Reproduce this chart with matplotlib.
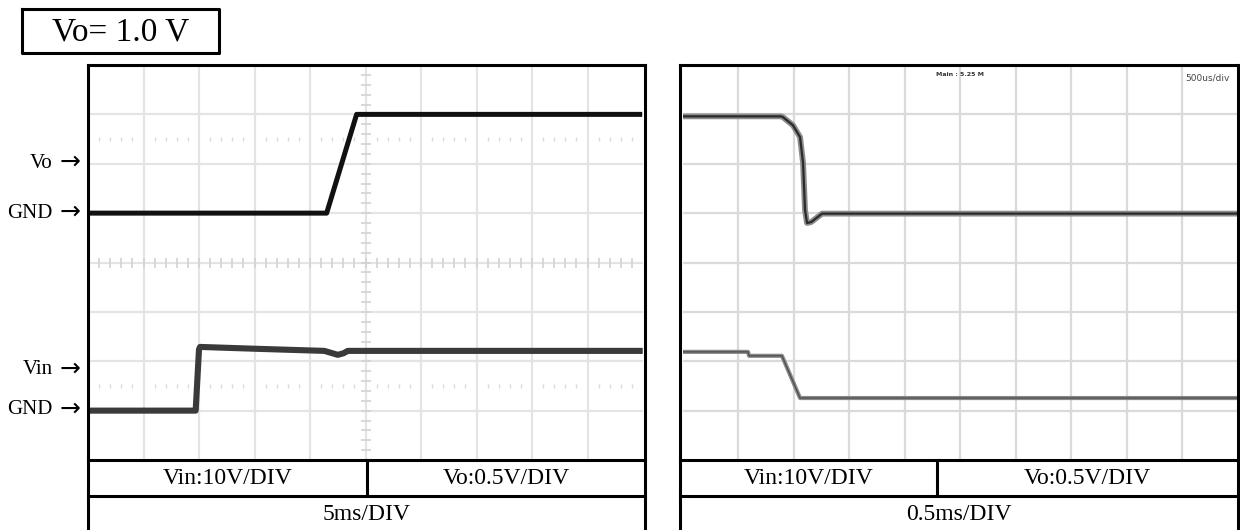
import numpy as np
import matplotlib
matplotlib.use("Agg")
import matplotlib.pyplot as plt

SERIF = ["Liberation Serif", "DejaVu Serif"]

# ---- scope settings ----
vo_per_div = 0.5      # V/div, output channel
vin_per_div = 10.0    # V/div, input channel
n_xdiv, n_ydiv = 10, 8
vo_gnd_div = 5        # Vo ground marker, divisions above bottom
vin_gnd_div = 1       # Vin ground marker, divisions above bottom

# ---- start-up capture, 5 ms/div ----
left_ms_per_div = 5.0
left_vo_t = [0.3, 21.5, 24.2, 49.7]
left_vo_v = [0.0, 0.0, 1.0, 1.0]
left_vin_t = [0.3, 9.7, 10.0, 10.1, 15.5, 21.3, 22.5, 23.0, 23.4, 49.7]
left_vin_v = [0.0, 0.0, 12.4, 12.9, 12.5, 12.1, 11.3, 11.6, 12.1, 12.1]

# ---- shut-down capture, 0.5 ms/div ----
right_ms_per_div = 0.5
right_vo_t = [0.01, 0.887, 0.905, 0.995, 1.059, 1.086, 1.104, 1.122, 1.16, 1.194, 1.257, 4.99]
right_vo_v = [0.98, 0.98, 0.972, 0.89, 0.77, 0.51, 0.03, -0.10, -0.09, -0.06, -0.005, -0.005]
right_vin_t = [0.01, 0.59, 0.60, 0.896, 1.059, 4.99]
right_vin_v = [11.9, 11.9, 11.1, 11.1, 2.55, 2.55]

title = "Vo= 1.0 V"
scale_labels = ["Vin:10V/DIV", "Vo:0.5V/DIV"]
left_time_label = "5ms/DIV"
right_time_label = "0.5ms/DIV"
marker_labels = ["Vo", "GND", "Vin", "GND"]

W, H = 1240, 530
fig = plt.figure(figsize=(W / 100, H / 100), dpi=100)


def px_axes(x0, x1, y0, y1):
    return fig.add_axes([x0 / W, 1 - y1 / H, (x1 - x0) / W, (y1 - y0) / H])


def scope(x0, x1, ms_per_div, grid_color, graticule):
    ax = px_axes(x0, x1, 65, 460)
    ax.set_xlim(0, n_xdiv * ms_per_div)
    vo_lo = -vo_gnd_div * vo_per_div
    ax.set_ylim(vo_lo, vo_lo + n_ydiv * vo_per_div)
    for s in ax.spines.values():
        s.set_visible(False)
    ax.set_xticks([]); ax.set_yticks([])
    for k in range(1, n_xdiv):
        ax.axvline(k * ms_per_div, color=grid_color, lw=1.6, zorder=0)
    for k in range(1, n_ydiv):
        ax.axhline(vo_lo + k * vo_per_div, color=grid_color, lw=1.6, zorder=0)
    if graticule:
        xc = n_xdiv / 2 * ms_per_div
        yc = vo_lo + n_ydiv / 2 * vo_per_div
        fx = np.arange(0.2, n_xdiv, 0.2) * ms_per_div
        fy = vo_lo + np.arange(0.2, n_ydiv, 0.2) * vo_per_div
        ax.plot(fx, np.full_like(fx, yc), ls="none", marker="|", ms=7,
                mew=1.2, color="#d2d2d2", zorder=0)
        ax.plot(np.full_like(fy, xc), fy, ls="none", marker="_", ms=7,
                mew=1.2, color="#d2d2d2", zorder=0)
        fx2 = fx[np.abs(fx / ms_per_div - np.round(fx / ms_per_div)) > 1e-6]
        for yd in (yc + 2.5 * vo_per_div, yc - 2.5 * vo_per_div):
            ax.plot(fx2, np.full_like(fx2, yd), ls="none", marker="|", ms=3,
                    mew=1.0, color="#dadada", zorder=0)
    axv = ax.twinx()
    vin_lo = -vin_gnd_div * vin_per_div
    axv.set_ylim(vin_lo, vin_lo + n_ydiv * vin_per_div)
    axv.set_yticks([])
    axv.patch.set_visible(False)
    for s in axv.spines.values():
        s.set_visible(False)
    return ax, axv


# start-up panel
axL, axLv = scope(88, 643, left_ms_per_div, "#e4e4e4", True)
axLv.plot(left_vin_t, left_vin_v, color="#3a3a3a", lw=4.4)
axL.plot(left_vo_t, left_vo_v, color="#111111", lw=3.6)

# shut-down panel
axR, axRv = scope(682.5, 1237.5, right_ms_per_div, "#dadada", False)
axRv.plot(right_vin_t, right_vin_v, color="#8a8a8a", lw=3.0)
axRv.plot(right_vin_t, right_vin_v, color="#505050", lw=1.0)
axR.plot(right_vo_t, right_vo_v, color="#8c8c8c", lw=4.2)
axR.plot(right_vo_t, right_vo_v, color="#2a2a2a", lw=1.6)
axR.text(0.50, 0.982, "Main : 5.25 M", transform=axR.transAxes, ha="center",
         va="top", fontsize=4.5, fontweight="bold", color="#333333")
axR.text(0.985, 0.978, "500us/div", transform=axR.transAxes, ha="right",
         va="top", fontsize=6.5, color="#444444")

# frames, tables and labels in pixel space
ov = fig.add_axes([0, 0, 1, 1])
ov.set_xlim(0, W); ov.set_ylim(H, 0)
ov.axis("off")
ov.patch.set_visible(False)
lw = 2.2
kw = dict(color="black", lw=lw, solid_capstyle="projecting", clip_on=False)

# title box
ov.plot([22, 219, 219, 22, 22], [9, 9, 53, 53, 9], **kw)
ov.text(120.5, 32, title, ha="center", va="center", fontsize=24, family=SERIF)

for (x0, x1, xs, tlabel) in [(88, 645, 367, left_time_label),
                             (680, 1238, 937, right_time_label)]:
    ov.plot([x0, x0], [65, 531], **kw)
    ov.plot([x1, x1], [65, 531], **kw)
    ov.plot([x0, x1], [65, 65], **kw)
    ov.plot([x0, x1], [460, 460], **kw)
    ov.plot([x0, x1], [496, 496], **kw)
    ov.plot([xs, xs], [460, 496], **kw)
    ov.text((x0 + xs) / 2, 479, scale_labels[0], ha="center", va="center",
            fontsize=17, family=SERIF)
    ov.text((xs + x1) / 2, 479, scale_labels[1], ha="center", va="center",
            fontsize=17, family=SERIF)
    ov.text((x0 + x1) / 2, 514, tlabel, ha="center", va="center",
            fontsize=17, family=SERIF)

# channel markers
for label, y in zip(marker_labels, [163, 213, 370, 410]):
    ov.text(53, y, label, ha="right", va="center", fontsize=15, family=SERIF)
    ov.text(81, y - 1, "\u2192", ha="right", va="center", fontsize=18,
            family=["DejaVu Sans"])

fig.savefig("out.png", dpi=100)
